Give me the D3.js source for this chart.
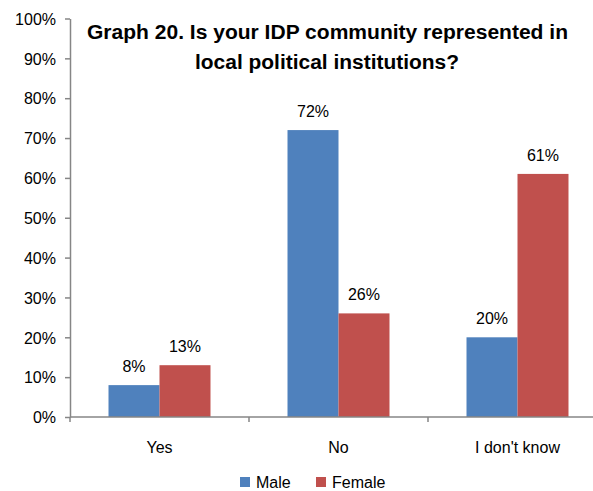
<!DOCTYPE html>
<html><head><meta charset="utf-8">
<script src="https://cdn.jsdelivr.net/npm/d3@7"></script>
<style>body{margin:0;background:#fff;overflow:hidden}svg{display:block}text{font-family:"Liberation Sans",Arial,sans-serif;fill:#000}</style>
</head><body><svg id="c" width="593" height="491"></svg>
<script>
const categories = ["Yes", "No", "I don't know"];
const seriesNames = ["Male", "Female"];
const maleValues = [8, 72, 20];
const femaleValues = [13, 26, 61];
const yTicks = [0,10,20,30,40,50,60,70,80,90,100];
const titleLines = ["Graph 20. Is your IDP community represented in", "local political institutions?"];
const colors = ["#4F81BD", "#C0504D"];

const svg = d3.select("#c");
const x0 = 70, plotTop = 18.5, plotBottom = 417;
const x = d3.scaleBand().domain(categories).range([x0, x0 + 179*3]).padding(0);
const xs = d3.scaleBand().domain(seriesNames).range([0, x.bandwidth()]).paddingInner(0).paddingOuter(0.755);
const y = d3.scaleLinear().domain([0,100]).range([plotBottom, plotTop]);
const values = [maleValues, femaleValues];

// Y axis
const yAxis = d3.axisLeft(y).tickValues(yTicks).tickFormat(d => d + "%").tickSize(5).tickSizeOuter(0);
const gy = svg.append("g").attr("transform", `translate(${x0},0)`).call(yAxis);
gy.select(".domain").attr("stroke", "#868686").attr("stroke-width", 1.5);
gy.selectAll(".tick line").attr("stroke", "#868686").attr("stroke-width", 1.5);
gy.selectAll(".tick text").attr("font-size", 16).attr("x", -14).attr("dy", "0.36em").style("font-family", '"Liberation Sans",Arial,sans-serif').attr("fill", "#000");

// Bars
seriesNames.forEach((s, si) => {
  svg.append("g").selectAll("rect").data(categories).join("rect")
    .attr("x", c => x(c) + xs(s))
    .attr("width", xs.bandwidth())
    .attr("y", (c, i) => y(values[si][i]))
    .attr("height", (c, i) => plotBottom - y(values[si][i]))
    .attr("fill", colors[si]);
  svg.append("g").selectAll("text").data(categories).join("text")
    .attr("x", c => x(c) + xs(s) + xs.bandwidth()/2)
    .attr("y", (c, i) => y(values[si][i]) - 13)
    .attr("text-anchor", "middle").attr("font-size", 16)
    .text((c, i) => values[si][i] + "%");
});

// X axis
svg.append("line").attr("x1", x0).attr("x2", 593).attr("y1", plotBottom).attr("y2", plotBottom).attr("stroke", "#868686").attr("stroke-width", 1.5);
const bounds = [x0].concat(categories.map(c => x(c) + x.bandwidth()));
svg.append("g").selectAll("line").data(bounds).join("line")
  .attr("x1", d => d).attr("x2", d => d).attr("y1", plotBottom).attr("y2", plotBottom + 5)
  .attr("stroke", "#868686").attr("stroke-width", 1.5);
svg.append("g").selectAll("text").data(categories).join("text")
  .attr("x", c => x(c) + x.bandwidth()/2).attr("y", 453)
  .attr("text-anchor", "middle").attr("font-size", 16).text(c => c);

// Title
const titleW = [481, 264];
svg.append("g").selectAll("text").data(titleLines).join("text")
  .attr("x", (d,i) => i === 0 ? 327.5 : 327)
  .attr("y", (d,i) => 39 + i*30)
  .attr("text-anchor", "middle").attr("font-size", 20).attr("font-weight", "bold")
  .attr("textLength", (d,i) => titleW[i]).attr("lengthAdjust", "spacingAndGlyphs")
  .text(d => d);

// Legend
const legX = [240, 316];
const lg = svg.append("g").selectAll("g").data(seriesNames).join("g")
  .attr("transform", (d,i) => `translate(${legX[i]},477)`);
lg.append("rect").attr("width", 10).attr("height", 10).attr("fill", (d,i) => colors[i]);
lg.append("text").attr("x", 16).attr("y", 11).attr("font-size", 16).text(d => d);
</script></body></html>
